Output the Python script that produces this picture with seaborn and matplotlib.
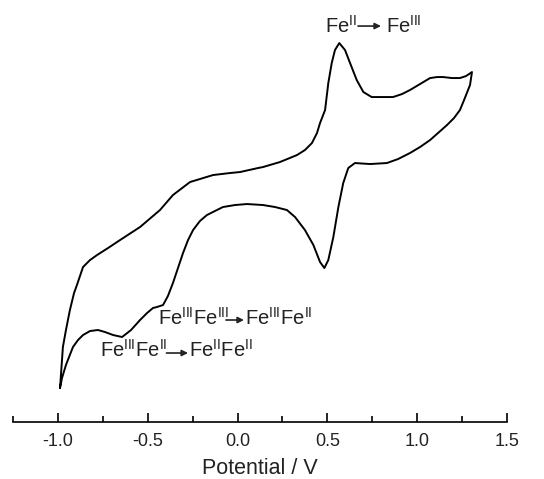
import numpy as np
import pandas as pd
import matplotlib
matplotlib.use("Agg")
import matplotlib.pyplot as plt
import seaborn as sns

# ---- data (potential in V, current in arbitrary units) ----
anodic_V = [-0.987, -0.976, -0.971, -0.954, -0.932, -0.909, -0.893, -0.859, -0.820, -0.781,
            -0.720, -0.653, -0.542, -0.431, -0.359, -0.264, -0.136, -0.042, 0.014, 0.114,
            0.142, 0.236, 0.331, 0.375, 0.414, 0.442, 0.459, 0.487, 0.505, 0.524,
            0.542, 0.566, 0.598, 0.626, 0.663, 0.700, 0.746, 0.802, 0.865, 0.915,
            0.959, 1.015, 1.071, 1.110, 1.143, 1.193, 1.237, 1.271, 1.304]
anodic_I = [3.4, 6.2, 7.5, 9.2, 11.2, 12.9, 13.7, 15.5, 16.2, 16.7,
            17.4, 18.2, 19.5, 21.2, 22.7, 24.0, 24.7, 24.9, 25.0, 25.4,
            25.5, 26.0, 26.7, 27.2, 27.9, 28.9, 29.9, 31.2, 33.9, 35.9,
            37.2, 37.9, 37.2, 35.9, 34.2, 33.0, 32.5, 32.5, 32.5, 32.8,
            33.2, 33.8, 34.4, 34.5, 34.5, 34.4, 34.4, 34.6, 35.0]

cathodic_V = [1.304, 1.293, 1.282, 1.260, 1.237, 1.204, 1.165, 1.115, 1.071, 1.015,
              0.959, 0.893, 0.831, 0.737, 0.653, 0.616, 0.588, 0.561, 0.533, 0.505,
              0.483, 0.459, 0.422, 0.375, 0.320, 0.275, 0.209, 0.142, 0.053, -0.014,
              -0.081, -0.170, -0.209, -0.247, -0.275, -0.303, -0.331, -0.359, -0.387, -0.414,
              -0.448, -0.470, -0.503, -0.542, -0.592, -0.642, -0.692, -0.737, -0.776, -0.820,
              -0.859, -0.887, -0.915, -0.954, -0.976, -0.987]
cathodic_I = [35.0, 33.7, 33.2, 32.2, 31.2, 30.4, 29.7, 28.9, 28.2, 27.5,
              26.9, 26.3, 25.9, 25.8, 25.9, 25.4, 23.9, 21.5, 18.5, 16.2,
              15.4, 16.0, 17.7, 19.2, 20.5, 21.2, 21.5, 21.7, 21.8, 21.7,
              21.5, 20.7, 20.1, 19.2, 18.2, 16.9, 15.4, 13.9, 12.6, 11.7,
              11.5, 11.4, 10.9, 10.2, 9.2, 8.5, 8.7, 9.0, 9.2, 9.1,
              8.7, 8.2, 7.5, 5.7, 4.4, 3.4]

major_ticks = [-1.0, -0.5, 0.0, 0.5, 1.0, 1.5]
tick_labels = ["-1.0", "-0.5", "0.0", "0.5", "1.0", "1.5"]
minor_ticks = [-1.25, -0.75, -0.25, 0.25, 0.75, 1.25]
x_label = "Potential / V"

# ---- style ----
sns.set_theme(style="white")
plt.rcParams["font.family"] = ["Liberation Sans", "DejaVu Sans"]
plt.rcParams["mathtext.fontset"] = "custom"
plt.rcParams["mathtext.rm"] = "Liberation Sans"
plt.rcParams["axes.unicode_minus"] = False

df = pd.DataFrame({
    "V": anodic_V + cathodic_V,
    "I": anodic_I + cathodic_I,
})

fig = plt.figure(figsize=(5.44, 4.79), dpi=100)
ax = fig.add_axes([0.0234, 0.1190, 0.909, 0.860])

sns.lineplot(data=df, x="V", y="I", sort=False, estimator=None,
             color="black", linewidth=1.4, ax=ax,
             solid_joinstyle="round", solid_capstyle="round")

ax.set_xlim(-1.25, 1.5)
ax.set_ylim(0, 41.2)
for s in ["left", "top", "right"]:
    ax.spines[s].set_visible(False)
ax.spines["bottom"].set_color("black")
ax.spines["bottom"].set_linewidth(1.2)

ax.set_xticks(major_ticks)
ax.set_xticklabels(tick_labels)
ax.set_xticks(minor_ticks, minor=True)
ax.set_yticks([])
ax.tick_params(axis="x", which="major", direction="in", length=6.5, width=1.2,
               color="black", labelsize=13, pad=8, labelcolor="#222222", bottom=True)
ax.tick_params(axis="x", which="minor", direction="in", length=4.3, width=1.2,
               color="black", bottom=True)
ax.set_xlabel(x_label, fontsize=15.5, labelpad=6, color="#222222")
ax.set_ylabel("")

tkw = dict(fontsize=14.5, color="#222222", ha="left", va="baseline")
akw = dict(arrowstyle="-|>", lw=1.2, color="#222222", mutation_scale=9,
           shrinkA=0, shrinkB=0)

# Fe(II) -> Fe(III)
ax.text(0.487, 38.9, r"Fe$^{\mathregular{II}}$", **tkw)
ax.annotate("", xy=(0.798, 39.6), xytext=(0.670, 39.6), arrowprops=akw)
ax.text(0.826, 38.9, r"Fe$^{\mathregular{III}}$", **tkw)

# Fe(III)Fe(III) -> Fe(III)Fe(II)
ax.text(-0.442, 9.7, r"Fe$^{\mathregular{III}}$Fe$^{\mathregular{III}}$", **tkw)
ax.annotate("", xy=(0.036, 10.2), xytext=(-0.064, 10.2), arrowprops=akw)
ax.text(0.042, 9.7, r"Fe$^{\mathregular{III}}$Fe$^{\mathregular{II}}$", **tkw)

# Fe(III)Fe(II) -> Fe(II)Fe(II)
ax.text(-0.765, 6.5, r"Fe$^{\mathregular{III}}$Fe$^{\mathregular{II}}$", **tkw)
ax.annotate("", xy=(-0.275, 6.9), xytext=(-0.395, 6.9), arrowprops=akw)
ax.text(-0.270, 6.5, r"Fe$^{\mathregular{II}}$Fe$^{\mathregular{II}}$", **tkw)

fig.savefig("out.png", dpi=100)
